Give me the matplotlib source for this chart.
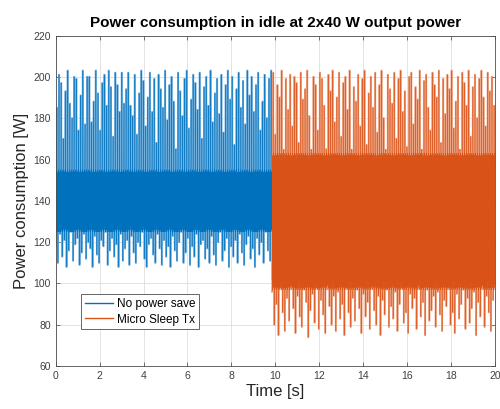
import numpy as np
import matplotlib
matplotlib.use('Agg')
import matplotlib.pyplot as plt

plt.rcParams['font.family'] = ['Liberation Sans', 'DejaVu Sans']

# --- data ---
title = 'Power consumption in idle at 2x40 W output power'
labels = ['No power save', 'Micro Sleep Tx']
switch_time = 9.85  # s, where the power save mode is enabled
end_time = 20.0

# high spikes of each switching period (W)
blue_peaks = [185, 201, 197, 170, 193, 203, 187, 180, 200, 199,
              174, 191, 203, 177, 200, 200, 178, 188, 203, 192,
              174, 197, 201, 186, 203, 195, 171, 202, 196, 183,
              202, 187, 194, 202, 186, 181, 201, 172, 192, 203,
              198, 176, 190, 202, 183, 199, 168, 201, 194, 185,
              203, 179, 196, 200, 188, 165, 202, 193, 181, 199,
              203, 175, 189, 201, 197, 184, 202, 170, 195, 200,
              186, 203, 178, 192, 199, 182, 201, 173, 196, 203,
              189, 200, 167, 194, 202, 185, 198, 177, 203, 191,
              200, 183, 196, 202, 174, 188, 201, 180, 199, 203]
# low spikes of each switching period (W)
blue_troughs = [118, 110, 124, 113, 121, 108, 116, 125, 111, 119,
                122, 109, 115, 124, 112, 120, 117, 108, 123, 114,
                110, 121, 118, 125, 109, 116, 122, 113, 119, 108,
                124, 111, 117, 121, 109, 123, 115, 110, 120, 118,
                125, 112, 108, 119, 122, 114, 110, 124, 117, 109,
                121, 113, 118, 108, 123, 116, 111, 120, 125, 110,
                115, 122, 109, 118, 113, 124, 108, 119, 121, 112,
                117, 110, 123, 114, 109, 120, 125, 111, 116, 122,
                108, 118, 113, 121, 110, 124, 115, 109, 119, 123,
                112, 117, 108, 122, 114, 120, 110, 125, 116, 111]
# fast oscillation inside one period (W)
blue_core = [127, 153, 125, 155, 129, 151, 126, 154, 128, 152, 125, 154]

orange_peaks = [202, 172, 196, 190, 203, 160, 199, 184, 201, 176,
                200, 197, 168, 202, 189, 194, 203, 181, 158, 200,
                196, 174, 202, 199, 186, 165, 201, 193, 203, 178,
                190, 202, 171, 197, 200, 184, 203, 162, 195, 188,
                201, 176, 199, 203, 167, 192, 200, 185, 202, 173,
                196, 203, 180, 155, 201, 194, 187, 202, 170, 199,
                203, 183, 193, 166, 200, 202, 177, 195, 189, 203,
                161, 198, 201, 185, 174, 202, 196, 190, 203, 168,
                199, 182, 201, 194, 203, 175, 188, 200, 163, 202,
                197, 186, 203, 171, 195, 201, 180, 199, 203, 190,
                176, 202, 193, 200, 186]
orange_troughs = [96, 80, 90, 75, 98, 86, 77, 93, 82, 99,
                  88, 76, 94, 84, 79, 97, 91, 74, 87, 95,
                  81, 98, 78, 92, 85, 76, 99, 89, 80, 94,
                  77, 96, 83, 90, 75, 98, 86, 79, 93, 82,
                  97, 88, 76, 95, 84, 91, 78, 99, 87, 80,
                  94, 75, 92, 85, 97, 79, 89, 83, 96, 77,
                  90, 98, 81, 86, 76, 95, 88, 93, 78, 99,
                  84, 91, 75, 97, 82, 87, 94, 79, 96, 85,
                  77, 92, 89, 98, 80, 86, 76, 95, 83, 90,
                  97, 78, 93, 81, 88, 96, 75, 91, 84, 99,
                  79, 94, 86, 77, 92]
orange_core = [99, 162, 102, 157, 97, 165, 101, 160, 98, 163, 100, 158]


def build_signal(peaks, troughs, core):
    # one switching period: low plateau, fast ripple, high plateau, fast ripple
    half = len(core) // 2
    values = []
    for pk, tr in zip(peaks, troughs):
        values += [tr, tr] + core[:half] + [pk, pk, pk] + core[half:]
    return np.array(values, dtype=float)


blue_sig = build_signal(blue_peaks, blue_troughs, blue_core)
orange_sig = build_signal(orange_peaks, orange_troughs, orange_core)
t_blue = np.linspace(0, switch_time, len(blue_sig))
t_orange = np.linspace(switch_time, end_time, len(orange_sig))

# --- figure ---
fig = plt.figure(figsize=(5.0, 4.09), dpi=100)
ax = fig.add_axes([0.1114, 0.105, 0.8786, 0.808])

# light wide underlay gives the washed-out look of the dense spikes
ax.plot(t_blue, blue_sig, color='#72b0de', lw=1.3, solid_joinstyle='miter')
ax.plot(t_orange, orange_sig, color='#eea584', lw=1.3, solid_joinstyle='miter')
ax.plot(t_blue, blue_sig, color='#0072BD', lw=0.3, label=labels[0])
ax.plot(t_orange, orange_sig, color='#D95319', lw=0.3, label=labels[1])

ax.set_xlim(0, 20)
ax.set_ylim(60, 220)
ax.set_xticks(np.arange(0, 21, 2))
ax.set_yticks(np.arange(60, 221, 20))
ax.grid(True, color='#dedede', lw=0.6)
ax.set_axisbelow(True)
ax.tick_params(direction='in', length=3, width=0.5, colors='#404040',
               labelsize=7.5, top=True, right=True)
for sp in ax.spines.values():
    sp.set_color('#4d4d4d')
    sp.set_linewidth(0.6)

ax.set_title(title, fontsize=11, fontweight='bold', pad=6)
ax.set_xlabel('Time [s]', fontsize=12, color='#262626', labelpad=2)
ax.set_ylabel('Power consumption [W]', fontsize=12, color='#262626', labelpad=3)

leg = ax.legend(loc='lower left', bbox_to_anchor=(0.058, 0.112), borderaxespad=0,
                fontsize=8.5, fancybox=False, framealpha=1, edgecolor='#4d4d4d',
                handlelength=2.4, handletextpad=0.3, borderpad=0.3, labelspacing=0.3)
leg.get_frame().set_linewidth(0.6)
for line in leg.get_lines():
    line.set_linewidth(1.0)

fig.savefig('out.png', dpi=100)
